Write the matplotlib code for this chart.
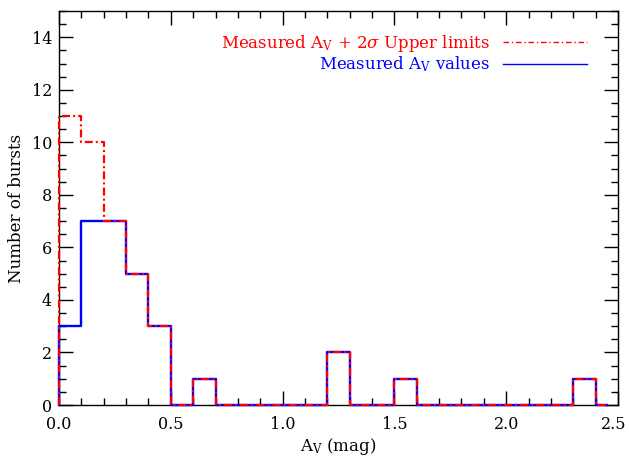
import numpy as np
import matplotlib
matplotlib.use("Agg")
import matplotlib.pyplot as plt
import matplotlib.transforms as mtransforms
from matplotlib.lines import Line2D
from matplotlib.ticker import MultipleLocator, FormatStrFormatter

plt.rcParams["font.family"] = ["DejaVu Serif"]
plt.rcParams["mathtext.fontset"] = "dejavuserif"

# histogram of A_V, bin width 0.1 mag starting at 0
bin_edges = np.round(np.arange(0.0, 2.45, 0.1), 2)
measured = [3, 7, 7, 5, 3, 0, 1, 0, 0, 0, 0, 0, 2, 0, 0, 1,
            0, 0, 0, 0, 0, 0, 0, 1]
upper_limits = [11, 10, 7, 5, 3, 0, 1, 0, 0, 0, 0, 0, 2, 0, 0, 1,
                0, 0, 0, 0, 0, 0, 0, 1]
tail_end = 2.45


def step_xy(counts):
    x = np.concatenate([[0.0], bin_edges, [tail_end]])
    y = np.concatenate([[0], counts, [0, 0]])
    return x, y


fig = plt.figure(figsize=(6.29, 4.58), dpi=100)
ax = fig.add_axes([0.0938, 0.1157, 0.8887, 0.8603])

xb, yb = step_xy(measured)
ax.step(xb, yb, where="post", color="#0000ff", lw=1.7, clip_on=False,
        zorder=3)
xr, yr = step_xy(upper_limits)
ax.step(xr, yr, where="post", color="#ff0000", lw=1.6, clip_on=False,
        dashes=(3.6, 1.4, 0.9, 1.4), zorder=4)

ax.set_xlim(0, 2.5)
ax.set_ylim(0, 15)
ax.xaxis.set_major_locator(MultipleLocator(0.5))
ax.xaxis.set_minor_locator(MultipleLocator(0.1))
ax.yaxis.set_major_locator(MultipleLocator(2))
ax.yaxis.set_minor_locator(MultipleLocator(0.5))
ax.xaxis.set_major_formatter(FormatStrFormatter("%.1f"))
ax.tick_params(which="both", direction="in", top=True, right=True,
               labelsize=11.5, width=1)
ax.tick_params(which="major", length=10)
ax.tick_params(which="minor", length=5)
ax.tick_params(axis="x", pad=8)
ax.tick_params(axis="y", pad=5)
for s in ax.spines.values():
    s.set_linewidth(1)
# IDL-style: the zero label sits a little above the axis line
for lbl in ax.get_yticklabels():
    lbl.set_verticalalignment("center_baseline")

fig.canvas.draw()
# keep the last x label ("2.5") inside the figure edge
last = [t for t in ax.get_xticklabels() if t.get_text() == "2.5"]
for t in last:
    t.set_transform(t.get_transform() + mtransforms.ScaledTranslation(
        -3 / 72, 0, fig.dpi_scale_trans))

ax.set_xlabel(r"A$_{\rm V}$ (mag)", fontsize=12, labelpad=2)
ax.set_ylabel("Number of bursts", fontsize=12, labelpad=5)

handles = [
    Line2D([], [], color="#ff0000", lw=1, dashes=(4, 2, 1, 2)),
    Line2D([], [], color="#0000ff", lw=1),
]
labels = [r"Measured A$_{\rm V}$ + 2$\sigma$ Upper limits",
          r"Measured A$_{\rm V}$ values"]
ax.legend(handles, labels, loc="upper right", frameon=False,
          markerfirst=False, labelcolor="linecolor", fontsize=12,
          handlelength=5.0, handletextpad=0.8, labelspacing=0.05,
          bbox_to_anchor=(0.965, 0.975), borderaxespad=0.3)

fig.savefig("out.png", dpi=100)
